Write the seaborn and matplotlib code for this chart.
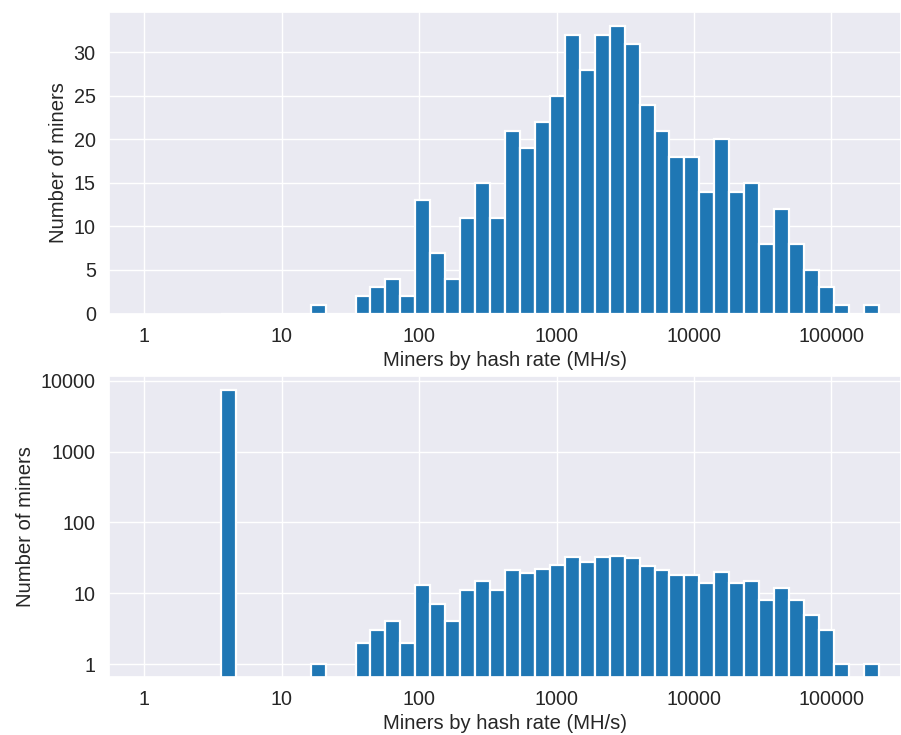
import numpy as np
import pandas as pd
import matplotlib
matplotlib.use("Agg")
import matplotlib.pyplot as plt
import matplotlib.ticker as mticker
import seaborn as sns

# ---- data ----
# histogram bins in log10(MH/s): 44 equal-width bins
bin_lo_log = 0.558
bin_hi_log = 5.345
n_bins = 44

# counts per bin (bin 0 ~ 3.6-4.6 MH/s)
counts_all = [7400, 0, 0, 0, 0, 0, 1, 0, 0, 2, 3, 4, 2, 13, 7, 4, 11, 15, 11,
              21, 19, 22, 25, 32, 28, 32, 33, 31, 24, 21, 18, 18, 14, 20, 14,
              15, 8, 12, 8, 5, 3, 1, 0, 1]
# top panel leaves out the lowest bin
counts_top = [0] + counts_all[1:]

x_ticks = [1, 10, 100, 1000, 10000, 100000]
x_tick_labels = ["1", "10", "100", "1000", "10000", "100000"]
y_ticks_top = [0, 5, 10, 15, 20, 25, 30]
y_ticks_bottom = [1, 10, 100, 1000, 10000]
y_tick_labels_bottom = ["1", "10", "100", "1000", "10000"]

xlabel = "Miners by hash rate (MH/s)"
ylabel = "Number of miners"

# ---- build table ----
edges_log = np.linspace(bin_lo_log, bin_hi_log, n_bins + 1)
centers = 10 ** ((edges_log[:-1] + edges_log[1:]) / 2)
df_top = pd.DataFrame({"rate": centers, "n": counts_top})
df_all = pd.DataFrame({"rate": centers, "n": counts_all})

sns.set_theme(style="darkgrid")
plt.rcParams["font.family"] = ["Liberation Sans", "DejaVu Sans"]
plt.rcParams["xtick.labelsize"] = 14.2
plt.rcParams["ytick.labelsize"] = 14.2
plt.rcParams["axes.labelsize"] = 14.6

W, H = 901, 735
fig = plt.figure(figsize=(W / 100, H / 100), dpi=100)
ax1 = fig.add_axes([109 / W, 1 - 313.5 / H, 792 / W, 301.5 / H])
ax2 = fig.add_axes([109 / W, 1 - 676.7 / H, 792 / W, 300.7 / H])

bar_color = "#1f77b4"
for ax, df in ((ax1, df_top), (ax2, df_all)):
    sns.histplot(data=df, x="rate", weights="n", bins=n_bins,
                 binrange=(bin_lo_log, bin_hi_log), log_scale=True,
                 color=bar_color, alpha=1, edgecolor="white", linewidth=1.6,
                 ax=ax)
    ax.set_xlim(10 ** -0.257, 10 ** 5.507)
    ax.xaxis.set_major_locator(mticker.FixedLocator(x_ticks))
    ax.xaxis.set_minor_locator(mticker.NullLocator())
    ax.set_xticklabels(x_tick_labels)
    ax.set_xlabel(xlabel)
    ax.set_ylabel(ylabel)

ax1.set_ylim(0, 34.65)
ax1.set_yticks(y_ticks_top)

ax2.set_yscale("log")
ax2.set_ylim(10 ** -0.179, 10 ** 4.066)
ax2.yaxis.set_major_locator(mticker.FixedLocator(y_ticks_bottom))
ax2.yaxis.set_minor_locator(mticker.NullLocator())
ax2.set_yticklabels(y_tick_labels_bottom)

fig.savefig("out.png", dpi=100)
